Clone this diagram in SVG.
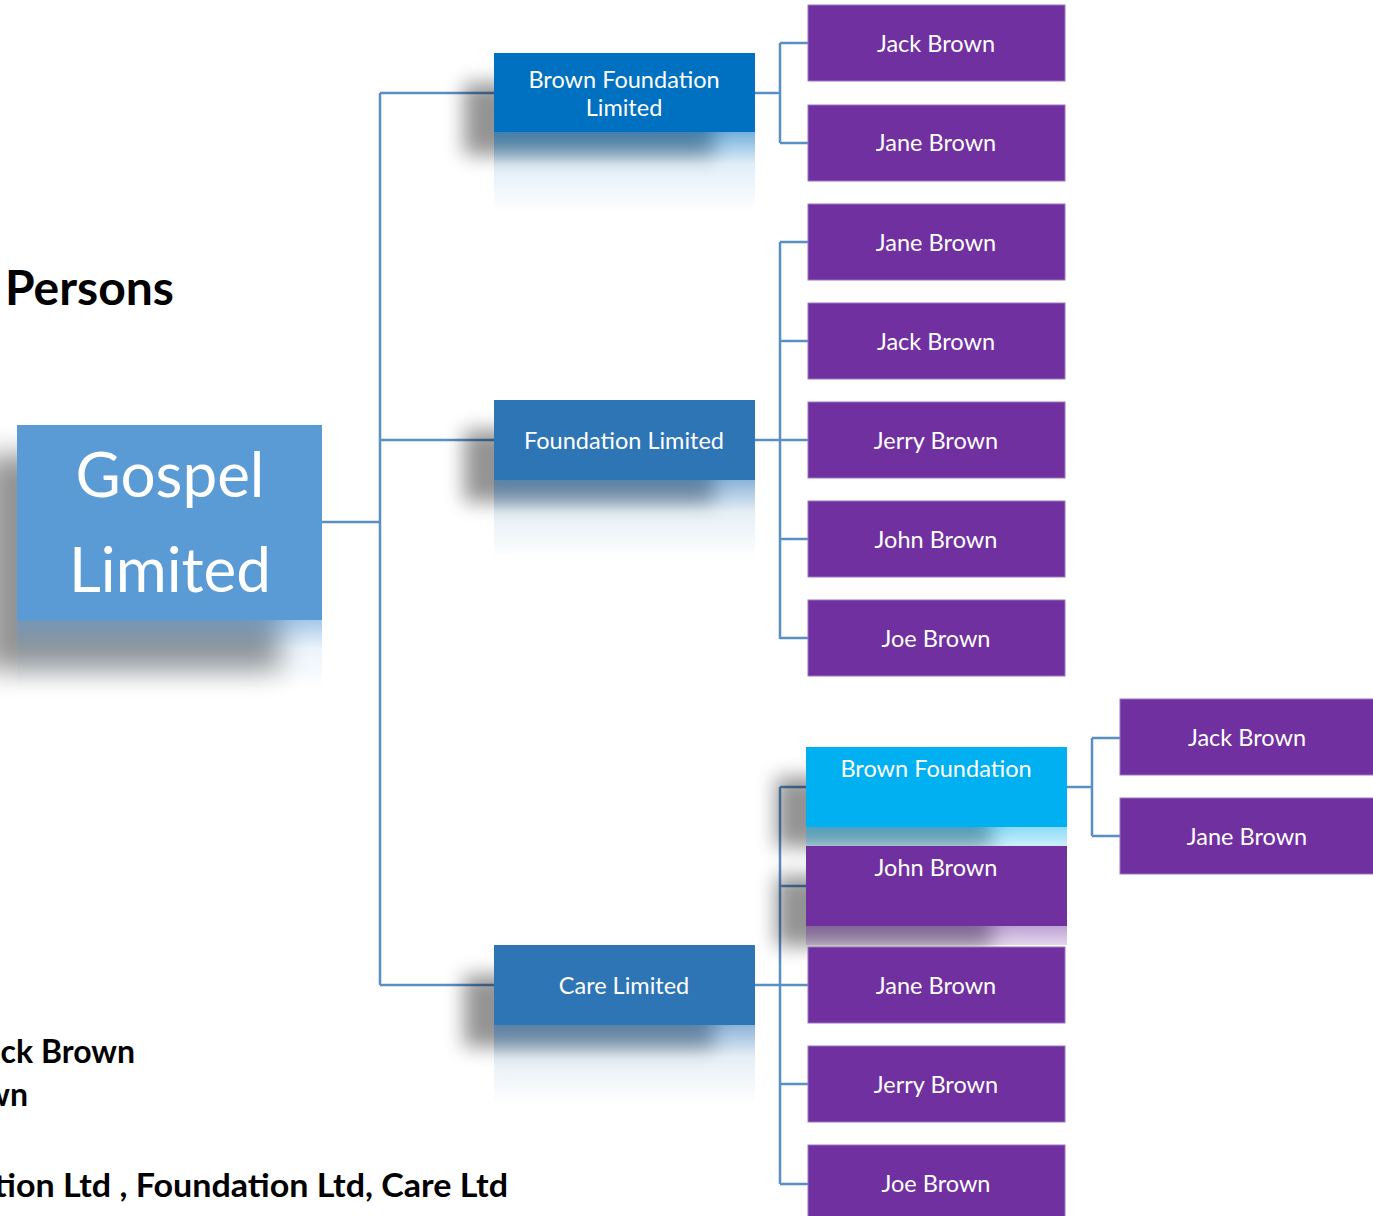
<svg xmlns="http://www.w3.org/2000/svg" width="1373" height="1216" viewBox="0 0 1373 1216">
<defs>
<filter id="blur" x="-50%" y="-50%" width="200%" height="200%"><feGaussianBlur stdDeviation="10"/></filter>
<filter id="blurL" x="-50%" y="-50%" width="200%" height="200%"><feGaussianBlur stdDeviation="14"/></filter>
<linearGradient id="refBlue" x1="0" y1="0" x2="0" y2="1"><stop offset="0" stop-color="#2E75B6" stop-opacity="0.55"/><stop offset="0.4" stop-color="#2E75B6" stop-opacity="0.12"/><stop offset="1" stop-color="#2E75B6" stop-opacity="0"/></linearGradient>
<linearGradient id="refDark" x1="0" y1="0" x2="0" y2="1"><stop offset="0" stop-color="#0070C0" stop-opacity="0.55"/><stop offset="0.4" stop-color="#0070C0" stop-opacity="0.12"/><stop offset="1" stop-color="#0070C0" stop-opacity="0"/></linearGradient>
<linearGradient id="refLight" x1="0" y1="0" x2="0" y2="1"><stop offset="0" stop-color="#5B9BD5" stop-opacity="0.55"/><stop offset="0.4" stop-color="#5B9BD5" stop-opacity="0.12"/><stop offset="1" stop-color="#5B9BD5" stop-opacity="0"/></linearGradient>
<linearGradient id="refCyan" x1="0" y1="0" x2="0" y2="1"><stop offset="0" stop-color="#00B0F0" stop-opacity="0.45"/><stop offset="1" stop-color="#00B0F0" stop-opacity="0.2"/></linearGradient>
<linearGradient id="refPurple" x1="0" y1="0" x2="0" y2="1"><stop offset="0" stop-color="#7030A0" stop-opacity="0.45"/><stop offset="1" stop-color="#7030A0" stop-opacity="0.2"/></linearGradient>
</defs>
<style>
.shadow{fill:#000;opacity:0.42;filter:url(#blur)}
.person{fill:#7030A0;stroke:#9a74c4;stroke-width:1}
.lbl{font-family:Lato,"Open Sans",sans-serif;font-size:23.5px;fill:#fff;text-anchor:middle}
.conn{fill:none;stroke:#5A8FC3;stroke-width:2.5}
.note{font-family:Lato,"Liberation Sans",sans-serif;font-weight:bold;fill:#000}
</style>
<rect width="1373" height="1216" fill="#fff"/>

<!-- left notes -->
<text class="note" x="5" y="305" font-size="48">Persons</text>
<text class="note" x="135" y="1063" font-size="32" text-anchor="end">ck Brown</text>
<text class="note" x="28" y="1106" font-size="32" text-anchor="end">wn</text>
<text class="note" x="-6" y="1197" font-size="32" textLength="514" lengthAdjust="spacingAndGlyphs">tion Ltd , Foundation Ltd, Care Ltd</text>

<!-- connectors -->
<g id="connectors">
<path class="conn" d="M322 522H380M380 93V985M380 93H494M380 440H494M380 985H494"/>
<path class="conn" d="M755 93H780M780 43V143M780 43H808M780 143H808"/>
<path class="conn" d="M755 440H780M780 242V639M780 242H808M780 341H808M780 440H808M780 539H808M780 638H808"/>
<path class="conn" d="M755 985H780M780 787V1184M780 787H806M780 886H806M780 985H808M780 1084H808M780 1184H808"/>
<path class="conn" d="M1067 787H1092M1092 738V836M1092 738H1120M1092 836H1120"/>
</g>

<g id="gospel">
<rect x="-15" y="455" width="295" height="215" fill="#000" opacity="0.42" filter="url(#blurL)"/>
<rect x="17" y="620" width="305" height="70" fill="url(#refLight)"/>
<rect x="17" y="425" width="305" height="195" fill="#5B9BD5"/>
<text x="170" y="497" font-family="Lato,'Open Sans',sans-serif" font-size="62" fill="#fff" text-anchor="middle">Gospel</text>
<text x="170" y="592" font-family="Lato,'Open Sans',sans-serif" font-size="62" fill="#fff" text-anchor="middle">Limited</text>
</g>

<g id="brown-foundation-limited">
<rect class="shadow" x="464" y="83" width="250" height="72"/>
<rect x="494" y="132" width="261" height="80" fill="url(#refDark)"/>
<rect x="494" y="53" width="261" height="79" fill="#0070C0"/>
<text class="lbl" x="624" y="88">Brown Foundation</text>
<text class="lbl" x="624" y="116">Limited</text>
</g>

<g id="foundation-limited">
<rect class="shadow" x="464" y="430" width="250" height="72"/>
<rect x="494" y="480" width="261" height="80" fill="url(#refBlue)"/>
<rect x="494" y="400" width="261" height="80" fill="#2E75B6"/>
<text class="lbl" x="624" y="449">Foundation Limited</text>
</g>

<g id="care-limited">
<rect class="shadow" x="464" y="975" width="250" height="72"/>
<rect x="494" y="1025" width="261" height="80" fill="url(#refBlue)"/>
<rect x="494" y="945" width="261" height="80" fill="#2E75B6"/>
<text class="lbl" x="624" y="994">Care Limited</text>
</g>

<g id="p1"><rect class="person" x="808" y="5" width="257" height="76"/><text class="lbl" x="936" y="52">Jack Brown</text></g>
<g id="p2"><rect class="person" x="808" y="105" width="257" height="76"/><text class="lbl" x="936" y="151">Jane Brown</text></g>
<g id="p3"><rect class="person" x="808" y="204" width="257" height="76"/><text class="lbl" x="936" y="251">Jane Brown</text></g>
<g id="p4"><rect class="person" x="808" y="303" width="257" height="76"/><text class="lbl" x="936" y="350">Jack Brown</text></g>
<g id="p5"><rect class="person" x="808" y="402" width="257" height="76"/><text class="lbl" x="936" y="449">Jerry Brown</text></g>
<g id="p6"><rect class="person" x="808" y="501" width="257" height="76"/><text class="lbl" x="936" y="548">John Brown</text></g>
<g id="p7"><rect class="person" x="808" y="600" width="257" height="76"/><text class="lbl" x="936" y="647">Joe Brown</text></g>

<g id="brown-foundation">
<rect class="shadow" x="776" y="777" width="216" height="70"/>
<rect x="806" y="827" width="261" height="19" fill="url(#refCyan)"/>
<rect x="806" y="747" width="261" height="80" fill="#00B0F0"/>
<text class="lbl" x="936" y="777">Brown Foundation</text>
</g>

<g id="john-brown-2">
<rect class="shadow" x="776" y="876" width="216" height="70"/>
<rect x="806" y="926" width="261" height="19" fill="url(#refPurple)"/>
<rect x="806" y="846" width="261" height="80" fill="#7030A0"/>
<text class="lbl" x="936" y="876">John Brown</text>
</g>

<g id="p8"><rect class="person" x="808" y="947" width="257" height="76"/><text class="lbl" x="936" y="994">Jane Brown</text></g>
<g id="p9"><rect class="person" x="808" y="1046" width="257" height="76"/><text class="lbl" x="936" y="1093">Jerry Brown</text></g>
<g id="p10"><rect class="person" x="808" y="1145" width="257" height="76"/><text class="lbl" x="936" y="1192">Joe Brown</text></g>

<g id="p11"><rect class="person" x="1120" y="699" width="260" height="76"/><text class="lbl" x="1247" y="746">Jack Brown</text></g>
<g id="p12"><rect class="person" x="1120" y="798" width="260" height="76"/><text class="lbl" x="1247" y="845">Jane Brown</text></g>
</svg>
